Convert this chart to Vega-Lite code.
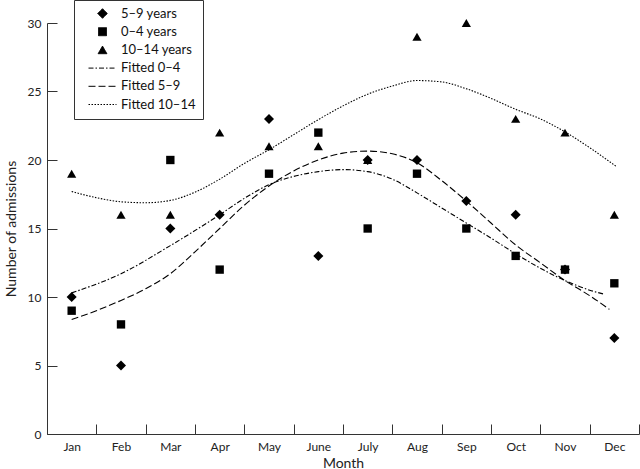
{
  "$schema": "https://vega.github.io/schema/vega-lite/v6.json",
  "width": 592,
  "height": 411,
  "autosize": {"type": "none"},
  "padding": {"left": 47, "top": 23, "right": 1, "bottom": 35},
  "background": "white",
  "config": {
    "font": "Lato",
    "view": {"stroke": null},
    "axis": {
      "domainColor": "#333",
      "tickColor": "#333",
      "labelColor": "#222",
      "titleColor": "#222",
      "grid": false,
      "labelFont": "Lato",
      "titleFont": "Lato",
      "titleFontWeight": "normal",
      "labelFontSize": 12,
      "titleFontSize": 14
    }
  },
  "datasets": {
    "points": [
      {"month": 1, "value": 10, "series": "5–9 years"},
      {"month": 2, "value": 5, "series": "5–9 years"},
      {"month": 3, "value": 15, "series": "5–9 years"},
      {"month": 4, "value": 16, "series": "5–9 years"},
      {"month": 5, "value": 23, "series": "5–9 years"},
      {"month": 6, "value": 13, "series": "5–9 years"},
      {"month": 7, "value": 20, "series": "5–9 years"},
      {"month": 8, "value": 20, "series": "5–9 years"},
      {"month": 9, "value": 17, "series": "5–9 years"},
      {"month": 10, "value": 16, "series": "5–9 years"},
      {"month": 11, "value": 12, "series": "5–9 years"},
      {"month": 12, "value": 7, "series": "5–9 years"},
      {"month": 1, "value": 9, "series": "0–4 years"},
      {"month": 2, "value": 8, "series": "0–4 years"},
      {"month": 3, "value": 20, "series": "0–4 years"},
      {"month": 4, "value": 12, "series": "0–4 years"},
      {"month": 5, "value": 19, "series": "0–4 years"},
      {"month": 6, "value": 22, "series": "0–4 years"},
      {"month": 7, "value": 15, "series": "0–4 years"},
      {"month": 8, "value": 19, "series": "0–4 years"},
      {"month": 9, "value": 15, "series": "0–4 years"},
      {"month": 10, "value": 13, "series": "0–4 years"},
      {"month": 11, "value": 12, "series": "0–4 years"},
      {"month": 12, "value": 11, "series": "0–4 years"},
      {"month": 1, "value": 19, "series": "10–14 years"},
      {"month": 2, "value": 16, "series": "10–14 years"},
      {"month": 3, "value": 16, "series": "10–14 years"},
      {"month": 4, "value": 22, "series": "10–14 years"},
      {"month": 5, "value": 21, "series": "10–14 years"},
      {"month": 6, "value": 21, "series": "10–14 years"},
      {"month": 7, "value": 20, "series": "10–14 years"},
      {"month": 8, "value": 29, "series": "10–14 years"},
      {"month": 9, "value": 30, "series": "10–14 years"},
      {"month": 10, "value": 23, "series": "10–14 years"},
      {"month": 11, "value": 22, "series": "10–14 years"},
      {"month": 12, "value": 16, "series": "10–14 years"}
    ],
    "fits": [
      {"month": 1.0, "value": 10.3, "series": "Fitted 0–4"},
      {"month": 2.0, "value": 11.7, "series": "Fitted 0–4"},
      {"month": 3.0, "value": 13.75, "series": "Fitted 0–4"},
      {"month": 4.0, "value": 16.0, "series": "Fitted 0–4"},
      {"month": 4.5, "value": 17.2, "series": "Fitted 0–4"},
      {"month": 5.0, "value": 18.2, "series": "Fitted 0–4"},
      {"month": 5.5, "value": 18.8, "series": "Fitted 0–4"},
      {"month": 6.0, "value": 19.15, "series": "Fitted 0–4"},
      {"month": 6.5, "value": 19.3, "series": "Fitted 0–4"},
      {"month": 7.0, "value": 19.15, "series": "Fitted 0–4"},
      {"month": 7.5, "value": 18.6, "series": "Fitted 0–4"},
      {"month": 8.0, "value": 17.6, "series": "Fitted 0–4"},
      {"month": 8.5, "value": 16.5, "series": "Fitted 0–4"},
      {"month": 9.0, "value": 15.4, "series": "Fitted 0–4"},
      {"month": 9.5, "value": 14.3, "series": "Fitted 0–4"},
      {"month": 10.0, "value": 13.15, "series": "Fitted 0–4"},
      {"month": 10.5, "value": 12.1, "series": "Fitted 0–4"},
      {"month": 11.0, "value": 11.2, "series": "Fitted 0–4"},
      {"month": 11.5, "value": 10.5, "series": "Fitted 0–4"},
      {"month": 11.8, "value": 10.2, "series": "Fitted 0–4"},
      {"month": 1.0, "value": 8.35, "series": "Fitted 5–9"},
      {"month": 1.5, "value": 9.0, "series": "Fitted 5–9"},
      {"month": 2.0, "value": 9.75, "series": "Fitted 5–9"},
      {"month": 2.5, "value": 10.6, "series": "Fitted 5–9"},
      {"month": 3.0, "value": 11.7, "series": "Fitted 5–9"},
      {"month": 3.5, "value": 13.3, "series": "Fitted 5–9"},
      {"month": 4.0, "value": 15.0, "series": "Fitted 5–9"},
      {"month": 4.5, "value": 16.7, "series": "Fitted 5–9"},
      {"month": 5.0, "value": 18.1, "series": "Fitted 5–9"},
      {"month": 5.5, "value": 19.2, "series": "Fitted 5–9"},
      {"month": 6.0, "value": 20.0, "series": "Fitted 5–9"},
      {"month": 6.5, "value": 20.5, "series": "Fitted 5–9"},
      {"month": 7.0, "value": 20.65, "series": "Fitted 5–9"},
      {"month": 7.5, "value": 20.45, "series": "Fitted 5–9"},
      {"month": 8.0, "value": 19.8, "series": "Fitted 5–9"},
      {"month": 8.5, "value": 18.5, "series": "Fitted 5–9"},
      {"month": 9.0, "value": 17.0, "series": "Fitted 5–9"},
      {"month": 9.5, "value": 15.4, "series": "Fitted 5–9"},
      {"month": 10.0, "value": 13.8, "series": "Fitted 5–9"},
      {"month": 10.5, "value": 12.5, "series": "Fitted 5–9"},
      {"month": 11.0, "value": 11.2, "series": "Fitted 5–9"},
      {"month": 11.5, "value": 10.1, "series": "Fitted 5–9"},
      {"month": 11.9, "value": 9.1, "series": "Fitted 5–9"},
      {"month": 1.0, "value": 17.7, "series": "Fitted 10–14"},
      {"month": 1.5, "value": 17.25, "series": "Fitted 10–14"},
      {"month": 2.0, "value": 16.95, "series": "Fitted 10–14"},
      {"month": 2.5, "value": 16.88, "series": "Fitted 10–14"},
      {"month": 3.0, "value": 17.05, "series": "Fitted 10–14"},
      {"month": 3.5, "value": 17.65, "series": "Fitted 10–14"},
      {"month": 4.0, "value": 18.6, "series": "Fitted 10–14"},
      {"month": 4.5, "value": 19.75, "series": "Fitted 10–14"},
      {"month": 5.0, "value": 20.75, "series": "Fitted 10–14"},
      {"month": 5.5, "value": 21.85, "series": "Fitted 10–14"},
      {"month": 6.0, "value": 22.95, "series": "Fitted 10–14"},
      {"month": 6.5, "value": 23.95, "series": "Fitted 10–14"},
      {"month": 7.0, "value": 24.8, "series": "Fitted 10–14"},
      {"month": 7.5, "value": 25.4, "series": "Fitted 10–14"},
      {"month": 8.0, "value": 25.8, "series": "Fitted 10–14"},
      {"month": 8.5, "value": 25.7, "series": "Fitted 10–14"},
      {"month": 9.0, "value": 25.2, "series": "Fitted 10–14"},
      {"month": 9.5, "value": 24.5, "series": "Fitted 10–14"},
      {"month": 10.0, "value": 23.7, "series": "Fitted 10–14"},
      {"month": 10.5, "value": 23.0, "series": "Fitted 10–14"},
      {"month": 11.0, "value": 22.05, "series": "Fitted 10–14"},
      {"month": 11.5, "value": 20.9, "series": "Fitted 10–14"},
      {"month": 12.05, "value": 19.5, "series": "Fitted 10–14"}
    ]
  },
  "layer": [
    {
      "data": {"name": "fits"},
      "mark": {"type": "line", "interpolate": "monotone", "strokeWidth": 1.1, "color": "black"},
      "encoding": {
        "x": {
          "field": "month",
          "type": "quantitative",
          "scale": {"domain": [0.5, 12.5], "nice": false, "zero": false},
          "axis": {
            "title": "Month",
            "values": [0.5, 1, 1.5, 2, 2.5, 3, 3.5, 4, 4.5, 5, 5.5, 6, 6.5, 7, 7.5, 8, 8.5, 9, 9.5, 10, 10.5, 11, 11.5, 12, 12.5],
            "tickCount": 40,
            "labelExpr": "datum.value == 1 ? 'Jan' : datum.value == 2 ? 'Feb' : datum.value == 3 ? 'Mar' : datum.value == 4 ? 'Apr' : datum.value == 5 ? 'May' : datum.value == 6 ? 'June' : datum.value == 7 ? 'July' : datum.value == 8 ? 'Aug' : datum.value == 9 ? 'Sep' : datum.value == 10 ? 'Oct' : datum.value == 11 ? 'Nov' : datum.value == 12 ? 'Dec' : ''",
            "tickOpacity": {"condition": {"test": "datum.value % 1 != 0", "value": 1}, "value": 0},
            "tickSize": -10,
            "labelPadding": 17,
            "labelOverlap": false,
            "labelFlush": false,
            "titlePadding": 4
          }
        },
        "y": {
          "field": "value",
          "type": "quantitative",
          "scale": {"domain": [0, 30], "nice": false},
          "axis": {
            "title": "Number of admissions",
            "values": [0, 5, 10, 15, 20, 25, 30],
            "tickSize": -10,
            "labelPadding": 16,
            "titlePadding": 9
          }
        },
        "strokeDash": {
          "field": "series",
          "type": "nominal",
          "scale": {
            "domain": ["5–9 years", "0–4 years", "10–14 years", "Fitted 0–4", "Fitted 5–9", "Fitted 10–14"],
            "range": [[1, 0], [1, 0], [1, 0], [5, 2, 1.5, 2], [7, 3], [1.5, 1.5]]
          },
          "legend": {
            "title": null,
            "orient": "none",
            "legendX": 27,
            "legendY": -23,
            "strokeColor": "#333",
            "fillColor": "white",
            "padding": 7,
            "labelFontSize": 13,
            "labelFont": "Lato",
            "labelColor": "#111",
            "symbolSize": 64,
            "symbolFillColor": "black",
            "symbolStrokeColor": "black",
            "symbolStrokeWidth": 1,
            "symbolOffset": 15,
            "labelOffset": 12,
            "rowPadding": 4.2,
            "encode": {"symbols": {"update": {"stroke": {"value": "black"}, "strokeWidth": {"value": 1}, "fill": {"value": "black"}}}}
          }
        }
      }
    },
    {
      "data": {"name": "points"},
      "mark": {"type": "point", "filled": true, "color": "black", "size": 70, "opacity": 1},
      "encoding": {
        "x": {"field": "month", "type": "quantitative"},
        "y": {"field": "value", "type": "quantitative"},
        "shape": {
          "field": "series",
          "type": "nominal",
          "scale": {
            "domain": ["5–9 years", "0–4 years", "10–14 years", "Fitted 0–4", "Fitted 5–9", "Fitted 10–14"],
            "range": ["M-1.2,0L0,-1.2L1.2,0L0,1.2Z", "square", "M0,-0.95L1.1,0.95L-1.1,0.95Z", "M-3.5,0H3.5", "M-3.5,0H3.5", "M-3.5,0H3.5"]
          },
          "legend": {
            "title": null,
            "orient": "none",
            "legendX": 27,
            "legendY": -23,
            "strokeColor": "#333",
            "fillColor": "white",
            "padding": 7,
            "labelFontSize": 13,
            "labelFont": "Lato",
            "labelColor": "#111",
            "symbolSize": 64,
            "symbolFillColor": "black",
            "symbolStrokeColor": "black",
            "symbolStrokeWidth": 1,
            "symbolOffset": 15,
            "labelOffset": 12,
            "rowPadding": 4.2,
            "encode": {"symbols": {"update": {"stroke": {"value": "black"}, "strokeWidth": {"value": 1}, "fill": {"value": "black"}}}}
          }
        }
      }
    }
  ]
}
